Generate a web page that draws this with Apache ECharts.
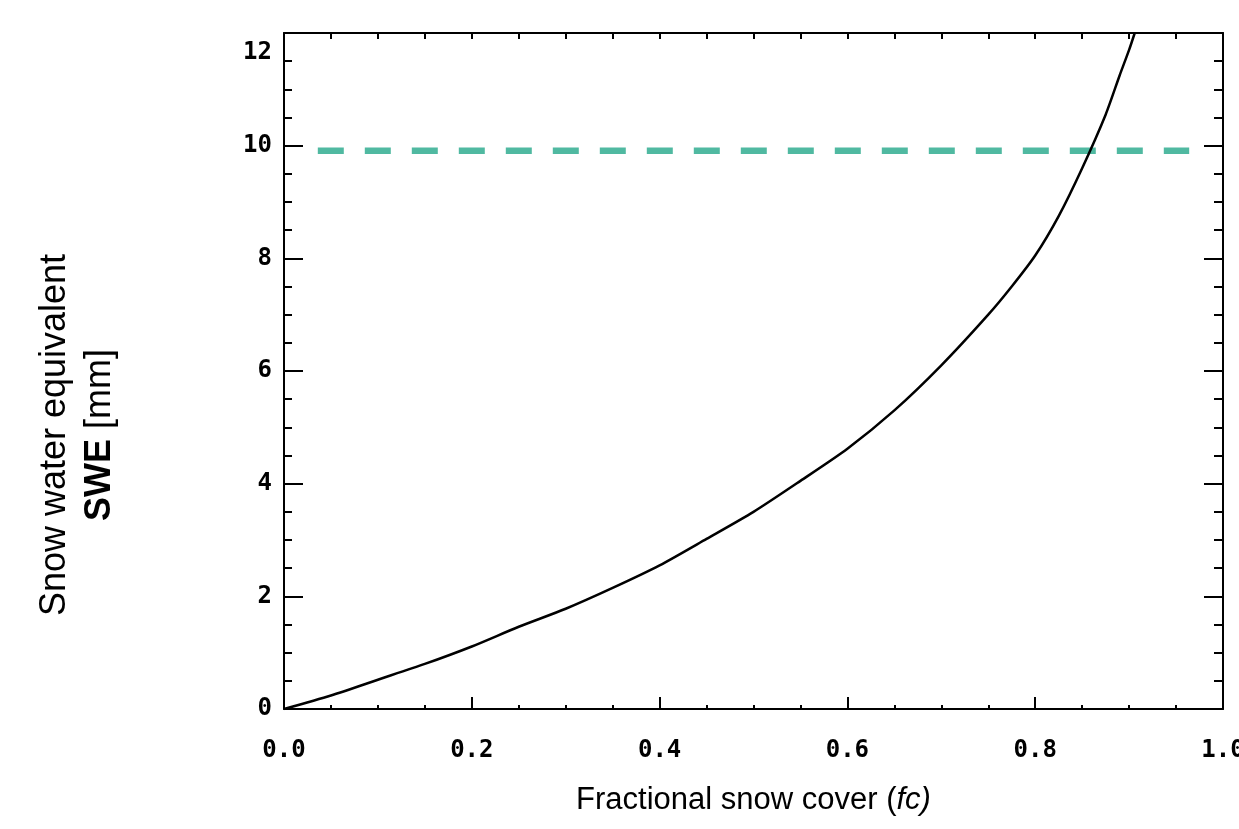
<!DOCTYPE html>
<html>
<head>
<meta charset="utf-8">
<title>Snow water equivalent vs fractional snow cover</title>
<script src="https://cdn.jsdelivr.net/npm/echarts@6/dist/echarts.min.js"></script>
<style>
  html, body { margin: 0; padding: 0; background: #fff; }
  #chart { width: 1239px; height: 829px; }
</style>
</head>
<body>
<div id="chart"></div>
<script type="text/javascript">
// values
var fcValues  = [0, 0.05, 0.10, 0.15, 0.20, 0.25, 0.30, 0.35, 0.40, 0.45, 0.50, 0.55, 0.60, 0.65, 0.70, 0.75, 0.775, 0.80, 0.825, 0.85, 0.875, 0.89, 0.90, 0.906];
var sweValues = [0, 0.24, 0.52, 0.80, 1.11, 1.46, 1.78, 2.15, 2.55, 3.02, 3.50, 4.05, 4.62, 5.30, 6.10, 7.00, 7.50, 8.05, 8.75, 9.60, 10.55, 11.25, 11.70, 12.0];
var thresholdX = [0.036, 0.964];
var thresholdY = [9.91, 9.91];
var xTickLabels = ['0.0', '0.2', '0.4', '0.6', '0.8', '1.0'];
var yTickLabels = ['0', '2', '4', '6', '8', '10', '12'];

var curve = fcValues.map(function (x, i) { return [x, sweValues[i]]; });
var threshold = thresholdX.map(function (x, i) { return [x, thresholdY[i]]; });

var myChart = echarts.init(document.getElementById('chart'));

var axisLine = { show: true, onZero: false, lineStyle: { color: '#000', width: 2 } };
var tickFont = { color: '#000', fontFamily: 'DejaVu Sans Mono', fontSize: 24, fontWeight: 'bold' };

var option = {
  backgroundColor: '#fff',
  animation: false,
  grid: { left: 284, right: 16, top: 33, bottom: 120, containLabel: false, outerBoundsMode: 'none' },
  xAxis: [
    {
      type: 'value', position: 'bottom', min: 0, max: 1, interval: 0.2,
      axisLine: axisLine,
      axisTick: { show: true, inside: true, length: 12, lineStyle: { color: '#000', width: 2 } },
      minorTick: { show: true, splitNumber: 4, length: 4, lineStyle: { color: '#000', width: 2 } },
      splitLine: { show: false },
      axisLabel: Object.assign({ margin: 30, showMaxLabel: true,
        formatter: function (v) { return xTickLabels[Math.round(v / 0.2)]; } }, tickFont),
      name: '{n|Fractional snow cover (}{i|fc)}',
      nameLocation: 'middle',
      nameGap: 76,
      nameTextStyle: {
        rich: {
          n: { fontFamily: 'Liberation Sans', fontSize: 31, color: '#000' },
          i: { fontFamily: 'Liberation Sans', fontSize: 31, fontStyle: 'italic', color: '#000' }
        }
      }
    },
    {
      type: 'value', position: 'top', min: 0, max: 1, interval: 0.2,
      axisLine: axisLine,
      axisTick: { show: true, inside: true, length: 6, lineStyle: { color: '#000', width: 2 } },
      minorTick: { show: true, splitNumber: 4, length: 6, lineStyle: { color: '#000', width: 2 } },
      splitLine: { show: false },
      axisLabel: { show: false }
    }
  ],
  yAxis: [
    {
      type: 'value', position: 'left', min: 0, max: 12, interval: 2,
      axisLine: axisLine,
      axisTick: { show: true, inside: true, length: 19, lineStyle: { color: '#000', width: 2 } },
      minorTick: { show: true, splitNumber: 4, length: 8, lineStyle: { color: '#000', width: 2 } },
      splitLine: { show: false },
      axisLabel: Object.assign({ margin: 12, verticalAlignMaxLabel: 'top',
        formatter: function (v) {
          var t = yTickLabels[Math.round(v / 2)];
          return v === 12 ? '{t|' + t + '}' : t;
        },
        rich: {
          t: { color: '#000', fontFamily: 'DejaVu Sans Mono', fontSize: 24, fontWeight: 'bold', padding: [8, 0, 0, 0] }
        } }, tickFont)
    },
    {
      type: 'value', position: 'right', min: 0, max: 12, interval: 2,
      axisLine: axisLine,
      axisTick: { show: true, inside: true, length: 19, lineStyle: { color: '#000', width: 2 } },
      minorTick: { show: true, splitNumber: 4, length: 9, lineStyle: { color: '#000', width: 2 } },
      splitLine: { show: false },
      axisLabel: { show: false }
    }
  ],
  graphic: [
    {
      type: 'text',
      x: 78, y: 435,
      rotation: Math.PI / 2,
      style: {
        text: 'Snow water equivalent\n{b|SWE} [mm]',
        fontFamily: 'Liberation Sans',
        fontSize: 36,
        lineHeight: 45,
        fill: '#000',
        align: 'center',
        verticalAlign: 'middle',
        rich: {
          b: { fontFamily: 'Liberation Sans', fontSize: 36, fontWeight: 'bold', lineHeight: 45, color: '#000' }
        }
      }
    }
  ],
  series: [
    {
      name: 'threshold',
      type: 'line',
      data: threshold,
      showSymbol: false,
      lineStyle: { color: '#50b9a1', width: 6.5, type: [26, 21], cap: 'butt' },
      z: 2
    },
    {
      name: 'SWE',
      type: 'line',
      data: curve,
      smooth: 0.25,
      showSymbol: false,
      lineStyle: { color: '#000', width: 2.5 },
      z: 3
    }
  ]
};
myChart.setOption(option);
</script>
</body>
</html>
